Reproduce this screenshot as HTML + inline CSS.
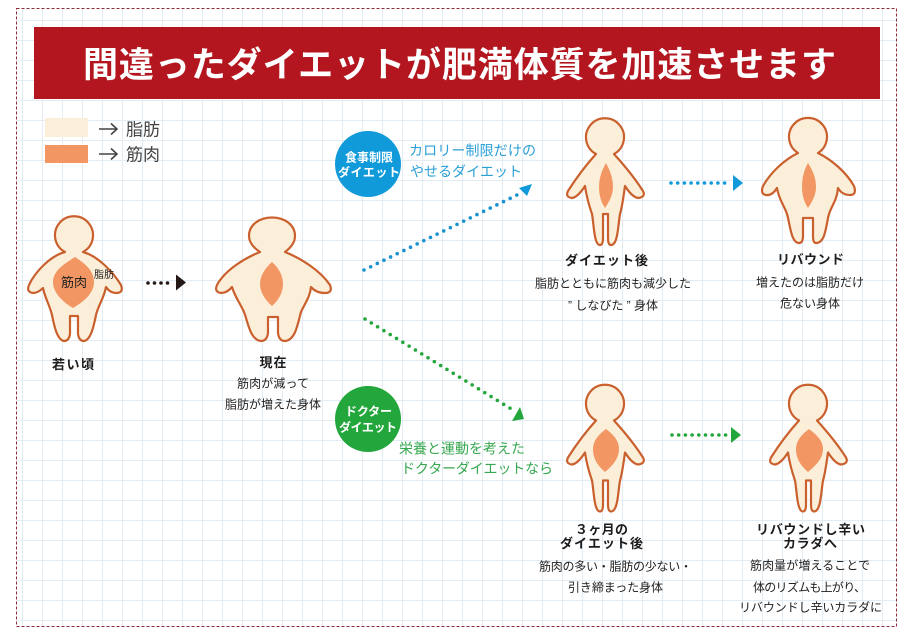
<!DOCTYPE html>
<html lang="ja"><head><meta charset="utf-8"><style>
html,body{margin:0;padding:0;background:#fff}
svg{display:block}
text{font-family:"Liberation Sans","Noto Sans CJK JP",sans-serif;fill:#222}
.b{font-weight:700;font-size:13px;fill:#1c1c1c}
.n{font-size:12px;fill:#222}
.fig{fill:#fcefd9;stroke:#c9602d;stroke-width:2.2;stroke-linejoin:round}
.m{fill:#f29763}
.d{fill:none;stroke-width:3.6;stroke-linecap:round}
</style></head><body>
<svg width="911" height="640" viewBox="0 0 911 640" xmlns="http://www.w3.org/2000/svg">
<defs><pattern id="g" x="2" y="0" width="20" height="20" patternUnits="userSpaceOnUse"><path d="M0.500 0V20M0 .5H20" stroke="#e2ecf2" stroke-width="1" fill="none"/></pattern></defs>
<rect width="911" height="640" fill="#fff"/>
<rect x="16.500" y="8.500" width="880" height="618" fill="url(#g)" stroke="#8e2b3a" stroke-width="1" stroke-dasharray="3 2"/>
<rect x="34" y="27" width="846" height="72" fill="#b3161f"/>
<text x="83" y="77" font-size="35" font-weight="700" textLength="753" style="fill:#fff">間違ったダイエットが肥満体質を加速させます</text>

<rect x="45" y="118" width="43" height="19" fill="#fcefd9"/>
<rect x="45" y="145" width="43" height="18" fill="#f29763"/>
<path d="M99 129H117M111 123.500L117 129L111 134.500M99 154H117M111 148.500L117 154L111 159.500" fill="none" stroke="#444" stroke-width="1.600"/>
<text x="126" y="135.500" font-size="17" textLength="34" style="fill:#444">脂肪</text>
<text x="126" y="160.500" font-size="17" textLength="34" style="fill:#444">筋肉</text>

<!-- figure 1 -->
<path class="fig" d="M65 252A19 19 0 1 1 83 252C98 256 113 272 121 285Q124 293 116 293Q110 293 106 287C104 298 98 306 96 315C94 325 91 340 84 341Q79 341 78 334L78 316L70 316L70 334Q69 341 64 341C57 340 54 325 52 315C50 306 45 298 43 288Q38 293 33 293Q26 292 29 285C35 272 50 256 65 252Z"/>
<path class="m" d="M75 257C84 263 94 270 94 282C94 294 83 302 73 308C63 302 53 293 53 282C53 270 66 263 75 257Z"/>
<text x="61" y="287" font-size="13" textLength="26">筋肉</text>
<text x="94" y="278" font-size="10" textLength="20">脂肪</text>
<text class="b" x="52" y="369" textLength="42">若い頃</text>

<path class="d" stroke="#231815" stroke-dasharray="0 6.500" d="M148 283H173"/>
<path d="M176 274.500L186 282.500L176 290.500Z" fill="#231815"/>

<!-- figure 2 -->
<path class="fig" d="M260 252C251 246 249 240 249 236C249 225 259 217.500 272 217.500C285 217.500 295 225 295 236C295 240 293 246 285 252C300 258 320 270 330 285Q333 293 325 293Q316 293 311 287C310 297 305 303 301 312C298 322 296 340 285 341Q279 341 278 333L278 317L268 317L268 333Q267 341 261 341C250 340 248 322 244 312C240 303 235 297 232 287Q227 293 221 293Q214 292 217 285C225 270 245 258 260 252Z"/>
<path class="m" d="M272 262C279 268 283 276 283 284C283 292 279 300 272 306C265 300 260 292 260 284C260 276 265 268 272 262Z"/>
<text class="b" x="259.500" y="367" textLength="27">現在</text>
<text class="n" x="237" y="387.500" textLength="72">筋肉が減って</text>
<text class="n" x="225" y="408.500" textLength="96">脂肪が増えた身体</text>

<!-- blue branch -->
<path class="d" stroke="#1a92d0" stroke-dasharray="0 7.400" d="M364 270L521 193"/>
<path d="M532 184L519 188L527 196Z" fill="#109ad9"/>
<circle cx="368" cy="164" r="33" fill="#109ad9"/>
<text x="345" y="161.500" font-size="12" font-weight="700" textLength="48" style="fill:#fff">食事制限</text>
<text x="338" y="176.500" font-size="12" font-weight="700" textLength="62" style="fill:#fff">ダイエット</text>
<text x="409" y="155.300" font-size="14" textLength="127" style="fill:#2b9fd6">カロリー制限だけの</text>
<text x="410" y="176.300" font-size="14" textLength="112" style="fill:#2b9fd6">やせるダイエット</text>

<!-- figure 3 -->
<path class="fig" d="M596 154A19 19 0 1 1 614 154C624 165 636 180 643 191Q646 197 638 198Q632 197 625 186C623 200 622 208 620 214C618 225 618 245 611 245Q608 245 608 238L608 214L603 214L603 238Q603 245 600 245C594 245 594 225 592 214C590 208 587 200 585 186Q578 197 572 198Q565 197 568 191C575 180 586 165 596 154Z"/>
<path class="m" d="M606 163C611 172 613 180 613 187C613 195 609 202 605 208C601 202 599 195 599 187C599 178 602 170 606 163Z"/>
<text class="b" x="565" y="265" textLength="83">ダイエット後</text>
<text class="n" x="535" y="287.500" textLength="156">脂肪とともに筋肉も減少した</text>
<text class="n" x="568" y="309.500" textLength="90">” しなびた ” 身体</text>

<path class="d" stroke="#109ad9" stroke-dasharray="0 6.700" d="M671 183H731"/>
<path d="M733 175L743 183L733 191Z" fill="#109ad9"/>

<!-- figure 4 -->
<path class="fig" d="M798 153A19 19 0 1 1 818 153C832 160 846 172 854 186Q857 195 850 195Q842 195 838 188C837 200 832 205 829 214C826 224 826 243 816 243Q813 243 813 236L813 218L803 218L803 236Q803 243 799 243C791 243 790 224 787 214C784 205 779 200 777 188Q772 196 766 195Q760 194 763 186C771 172 784 160 798 153Z"/>
<path class="m" d="M808 163C814 172 816 180 816 187C816 195 812 202 808 208C804 202 802 195 802 187C802 178 804 170 808 163Z"/>
<text class="b" x="777" y="264" textLength="67">リバウンド</text>
<text class="n" x="756" y="286.500" textLength="108">増えたのは脂肪だけ</text>
<text class="n" x="780" y="307.500" textLength="60">危ない身体</text>

<!-- green branch -->
<path class="d" stroke="#23a63b" stroke-dasharray="0 7.400" d="M365 319L513 410"/>
<path d="M524 419L512 421L520 407Z" fill="#23a63b"/>
<circle cx="368" cy="419" r="33" fill="#23a63b"/>
<text x="345" y="415.500" font-size="12" font-weight="700" textLength="47" style="fill:#fff">ドクター</text>
<text x="339" y="431.500" font-size="12" font-weight="700" textLength="58" style="fill:#fff">ダイエット</text>
<text x="399" y="453.300" font-size="14" textLength="126" style="fill:#38a850">栄養と運動を考えた</text>
<text x="401" y="473.300" font-size="14" textLength="152" style="fill:#38a850">ドクターダイエットなら</text>

<!-- figure 5 -->
<path class="fig" transform="translate(0,266.500)" d="M596 154A19 19 0 1 1 614 154C624 165 636 180 643 191Q646 197 638 198Q632 197 625 186C623 200 622 208 620 214C618 225 618 245 611 245Q608 245 608 238L608 214L603 214L603 238Q603 245 600 245C594 245 594 225 592 214C590 208 587 200 585 186Q578 197 572 198Q565 197 568 191C575 180 586 165 596 154Z"/>
<path class="m" d="M606 429C614 435 619 441 619 449C619 459 612 466 605 472C598 466 593 459 593 449C593 441 598 435 606 429Z"/>
<text class="b" x="575" y="534" textLength="53">３ヶ月の</text>
<text class="b" x="560" y="548" textLength="83">ダイエット後</text>
<text class="n" x="539" y="570.500" textLength="153">筋肉の多い・脂肪の少ない・</text>
<text class="n" x="568" y="591.500" textLength="95">引き締まった身体</text>

<path class="d" stroke="#23a63b" stroke-dasharray="0 6.700" d="M672 435H729"/>
<path d="M731 427L741 435L731 443Z" fill="#23a63b"/>

<!-- figure 6 -->
<path class="fig" transform="translate(203,266.500)" d="M596 154A19 19 0 1 1 614 154C624 165 636 180 643 191Q646 197 638 198Q632 197 625 186C623 200 622 208 620 214C618 225 618 245 611 245Q608 245 608 238L608 214L603 214L603 238Q603 245 600 245C594 245 594 225 592 214C590 208 587 200 585 186Q578 197 572 198Q565 197 568 191C575 180 586 165 596 154Z"/>
<path class="m" d="M809 429C817 435 823 441 823 449C823 459 815 466 808 472C801 466 796 459 796 449C796 441 801 435 809 429Z"/>
<text class="b" x="756" y="534" textLength="109">リバウンドし辛い</text>
<text class="b" x="783" y="548" textLength="54">カラダへ</text>
<text class="n" x="750" y="569.500" textLength="120">筋肉量が増えることで</text>
<text class="n" x="753" y="591.500" textLength="113">体のリズムも上がり、</text>
<text class="n" x="739" y="611.500" textLength="143">リバウンドし辛いカラダに</text>
</svg>
</body></html>
